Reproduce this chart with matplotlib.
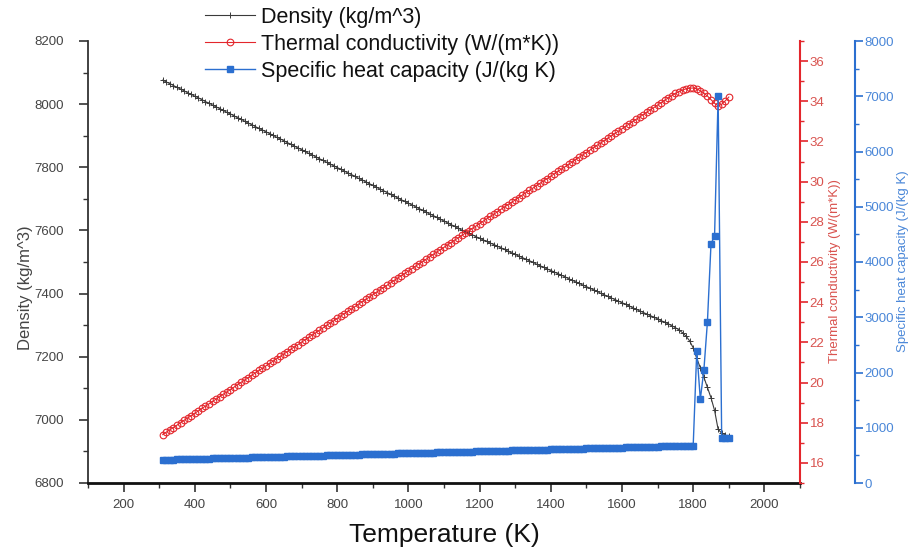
import numpy as np
import matplotlib
matplotlib.use("Agg")
import matplotlib.pyplot as plt
from matplotlib.ticker import MultipleLocator

plt.rcParams['font.family'] = ['Liberation Sans', 'DejaVu Sans']

# Temperature grid (K), 10 K steps
temperature = np.arange(310, 1901, 10)

density = [
    8076, 8070, 8065, 8059, 8053, 8048, 8042, 8036, 8031, 8025,
    8020, 8014, 8008, 8003, 7997, 7991, 7986, 7980, 7974, 7969,
    7963, 7957, 7952, 7946, 7940, 7935, 7929, 7923, 7918, 7912,
    7907, 7901, 7895, 7890, 7884, 7878, 7873, 7867, 7861, 7856,
    7850, 7844, 7839, 7833, 7827, 7822, 7816, 7810, 7805, 7799,
    7794, 7788, 7782, 7777, 7771, 7765, 7760, 7754, 7748, 7743,
    7737, 7731, 7726, 7720, 7714, 7709, 7703, 7697, 7692, 7686,
    7681, 7675, 7669, 7664, 7658, 7652, 7647, 7641, 7635, 7630,
    7624, 7618, 7613, 7607, 7601, 7596, 7591, 7586, 7580, 7575,
    7570, 7565, 7560, 7555, 7550, 7545, 7540, 7534, 7529, 7524,
    7519, 7514, 7509, 7504, 7499, 7493, 7488, 7483, 7478, 7473,
    7468, 7463, 7458, 7453, 7447, 7442, 7437, 7432, 7427, 7422,
    7417, 7412, 7407, 7401, 7396, 7391, 7386, 7381, 7376, 7371,
    7366, 7361, 7355, 7350, 7345, 7340, 7335, 7330, 7325, 7320,
    7314, 7309, 7304, 7298, 7292, 7285, 7276, 7265, 7250, 7228,
    7195, 7165, 7135, 7103, 7070, 7030, 6970, 6958, 6952, 6948,
]

conductivity = [
    17.41, 17.53, 17.65, 17.76, 17.88, 18.00, 18.12, 18.24, 18.35, 18.47,
    18.59, 18.71, 18.83, 18.94, 19.06, 19.18, 19.30, 19.42, 19.53, 19.65,
    19.77, 19.89, 20.01, 20.12, 20.24, 20.36, 20.48, 20.60, 20.71, 20.83,
    20.95, 21.07, 21.19, 21.30, 21.42, 21.54, 21.66, 21.78, 21.89, 22.01,
    22.13, 22.25, 22.37, 22.48, 22.60, 22.72, 22.84, 22.96, 23.07, 23.19,
    23.31, 23.43, 23.55, 23.66, 23.78, 23.90, 24.02, 24.14, 24.25, 24.37,
    24.49, 24.61, 24.73, 24.84, 24.96, 25.08, 25.20, 25.32, 25.43, 25.55,
    25.67, 25.79, 25.91, 26.02, 26.14, 26.26, 26.38, 26.50, 26.61, 26.73,
    26.85, 26.97, 27.09, 27.20, 27.32, 27.44, 27.56, 27.68, 27.79, 27.91,
    28.03, 28.15, 28.27, 28.38, 28.50, 28.62, 28.74, 28.86, 28.97, 29.09,
    29.21, 29.33, 29.45, 29.56, 29.68, 29.80, 29.92, 30.04, 30.15, 30.27,
    30.39, 30.51, 30.63, 30.74, 30.86, 30.98, 31.10, 31.22, 31.33, 31.45,
    31.57, 31.69, 31.81, 31.92, 32.04, 32.16, 32.28, 32.40, 32.51, 32.63,
    32.75, 32.87, 32.99, 33.10, 33.22, 33.34, 33.46, 33.58, 33.69, 33.81,
    33.93, 34.05, 34.17, 34.28, 34.39, 34.48, 34.56, 34.62, 34.65, 34.66,
    34.62, 34.52, 34.40, 34.26, 34.08, 33.90, 33.77, 33.85, 34.02, 34.21,
]

heat_capacity = [
    420, 422, 423, 425, 427, 429, 430, 432, 434, 435,
    437, 439, 441, 442, 444, 446, 448, 449, 451, 453,
    454, 456, 458, 460, 461, 463, 465, 466, 468, 470,
    472, 473, 475, 477, 479, 480, 482, 484, 485, 487,
    489, 491, 492, 494, 496, 497, 499, 501, 503, 504,
    506, 508, 510, 511, 513, 515, 516, 518, 520, 522,
    523, 525, 527, 528, 530, 532, 534, 535, 537, 539,
    541, 542, 544, 546, 547, 549, 551, 553, 554, 556,
    558, 559, 561, 563, 565, 566, 568, 570, 572, 573,
    575, 577, 578, 580, 582, 584, 585, 587, 589, 590,
    592, 594, 596, 597, 599, 601, 603, 604, 606, 608,
    609, 611, 613, 615, 616, 618, 620, 621, 623, 625,
    627, 628, 630, 632, 634, 635, 637, 639, 640, 642,
    644, 646, 647, 649, 651, 652, 654, 656, 658, 659,
    661, 663, 665, 666, 668, 670, 671, 673, 675, 677,
    2390, 1515, 2045, 2920, 4330, 4470, 7000, 820, 820, 820,
]

label_density = "Density (kg/m^3)"
label_cond = "Thermal conductivity (W/(m*K))"
label_cp = "Specific heat capacity (J/(kg K)"

RED = "#e3262c"
RED_TXT = "#d9534f"
BLUE = "#2b6fd0"
BLUE_TXT = "#4a87d8"
GREY = "#333333"

fig = plt.figure(figsize=(9.1, 5.5), dpi=100)
ax = fig.add_axes([88 / 910, 1 - 483 / 550, 712 / 910, 442 / 550])

# density (left axis)
l1, = ax.plot(temperature, density, color="#3a3a3a", lw=0.8, marker="+",
              ms=5, mew=0.7, label=label_density)
ax.set_xlim(100, 2100)
ax.set_ylim(6800, 8200)
ax.xaxis.set_minor_locator(MultipleLocator(100))
ax.yaxis.set_major_locator(MultipleLocator(200))
ax.yaxis.set_minor_locator(MultipleLocator(100))
ax.set_xticks([200, 400, 600, 800, 1000, 1200, 1400, 1600, 1800, 2000])
for s in ("top", "right"):
    ax.spines[s].set_visible(False)
ax.spines["left"].set_color(GREY)
ax.spines["left"].set_linewidth(1.3)
ax.spines["bottom"].set_color("#111111")
ax.spines["bottom"].set_linewidth(2.0)
ax.tick_params(axis="both", which="major", direction="out", length=6.5,
               width=1.2, labelsize=9.5, colors=GREY, labelcolor="#444444")
ax.tick_params(axis="both", which="minor", direction="out", length=3.5,
               width=1.0, colors=GREY)
ax.tick_params(axis="y", which="major", pad=11)
ax.tick_params(axis="x", which="major", pad=5)
ax.set_xlabel("Temperature (K)", fontsize=19, color="#111111")
ax.xaxis.set_label_coords(0.5, -0.09)
ax.set_ylabel(label_density, fontsize=12, color="#444444")
ax.yaxis.label.set_verticalalignment("center")
ax.yaxis.set_label_coords(-0.088, 0.443)

# thermal conductivity (first right axis)
ax2 = ax.twinx()
l2, = ax2.plot(temperature, conductivity, color=RED, lw=0.8, marker="o",
               ms=4.8, mfc="none", mec=RED, mew=0.8, label=label_cond)
ax2.set_ylim(15, 37)
ax2.yaxis.set_minor_locator(MultipleLocator(1))
for s in ("top", "left", "bottom"):
    ax2.spines[s].set_visible(False)
ax2.spines["right"].set_color(RED)
ax2.spines["right"].set_linewidth(1.5)
ax2.tick_params(axis="y", which="major", direction="out", length=6, width=1.2,
                colors=RED, labelcolor=RED_TXT, labelsize=9.5, pad=1)
ax2.tick_params(axis="y", which="minor", direction="out", length=3, width=1.0,
                colors=RED)
ax2.set_yticks(np.arange(16, 37, 2))
ax2.set_ylabel(label_cond, fontsize=9.5, color=RED_TXT)
ax2.yaxis.label.set_verticalalignment("center")
ax2.yaxis.set_label_coords((835 - 88) / 712, (483 - 271) / 442)

# specific heat capacity (offset right axis)
ax3 = ax.twinx()
ax3.spines["right"].set_position(("axes", (855 - 88) / 712))
l3, = ax3.plot(temperature, heat_capacity, color=BLUE, lw=1.0, marker="s",
               ms=4.6, mfc=BLUE, mec=BLUE, label=label_cp)
ax3.set_ylim(0, 8000)
ax3.yaxis.set_major_locator(MultipleLocator(1000))
ax3.yaxis.set_minor_locator(MultipleLocator(500))
for s in ("top", "left", "bottom"):
    ax3.spines[s].set_visible(False)
ax3.spines["right"].set_color(BLUE)
ax3.spines["right"].set_linewidth(1.5)
ax3.tick_params(axis="y", which="major", direction="out", length=6, width=1.2,
                colors=BLUE, labelcolor=BLUE_TXT, labelsize=9.5, pad=1)
ax3.tick_params(axis="y", which="minor", direction="out", length=3, width=1.0,
                colors=BLUE)
ax3.set_ylabel(label_cp, fontsize=9.5, color=BLUE_TXT)
ax3.yaxis.label.set_verticalalignment("center")
ax3.yaxis.set_label_coords((903 - 88) / 712, (483 - 261) / 442)

leg = fig.legend(handles=[l1, l2, l3], loc="upper left",
                 bbox_to_anchor=(205 / 910, 1 - 7 / 550), frameon=False,
                 fontsize=15.5, handlelength=2.3, handletextpad=0.3,
                 labelspacing=0.27, borderpad=0, borderaxespad=0)
for t in leg.get_texts():
    t.set_color("#111111")

fig.savefig("out.png", dpi=100)
